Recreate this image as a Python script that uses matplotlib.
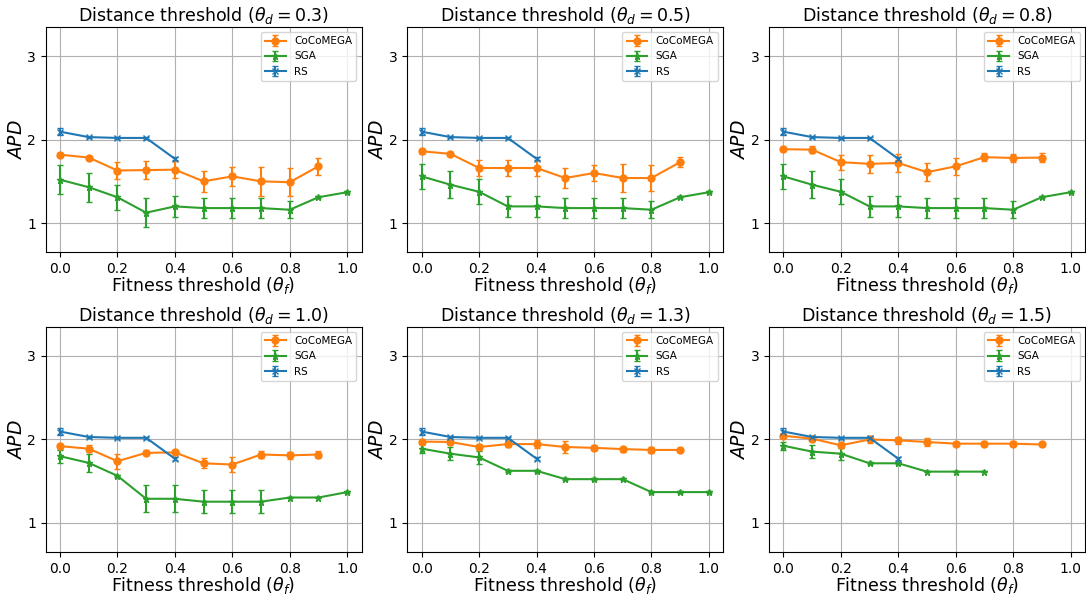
import numpy as np
import matplotlib.pyplot as plt

# umbrales de distancia (uno por panel)
theta_d = ['0.3', '0.5', '0.8', '1.0', '1.3', '1.5']

x_coco = [0.0, 0.1, 0.2, 0.3, 0.4, 0.5, 0.6, 0.7, 0.8, 0.9]
x_sga = [0.0, 0.1, 0.2, 0.3, 0.4, 0.5, 0.6, 0.7, 0.8, 0.9, 1.0]
x_sga_last = [0.0, 0.1, 0.2, 0.3, 0.4, 0.5, 0.6, 0.7]
x_rs = [0.0, 0.1, 0.2, 0.3, 0.4]

# RS (igual en todos los paneles)
rs_mean = [2.095, 2.03, 2.02, 2.02, 1.77]
rs_err = [0.04, 0.012, 0.012, 0.012, 0.02]

# CoCoMEGA
coco_mean = [
    [1.82, 1.785, 1.63, 1.635, 1.64, 1.50, 1.56, 1.50, 1.49, 1.68],
    [1.86, 1.83, 1.66, 1.66, 1.66, 1.54, 1.60, 1.54, 1.54, 1.73],
    [1.885, 1.88, 1.73, 1.71, 1.72, 1.61, 1.68, 1.79, 1.78, 1.785],
    [1.92, 1.89, 1.74, 1.84, 1.845, 1.715, 1.70, 1.82, 1.81, 1.82],
    [1.975, 1.97, 1.91, 1.945, 1.945, 1.91, 1.90, 1.885, 1.875, 1.875],
    [2.045, 2.01, 1.93, 2.00, 1.99, 1.97, 1.95, 1.95, 1.95, 1.94],
]
coco_err = [
    [0.025, 0.02, 0.105, 0.105, 0.10, 0.125, 0.11, 0.17, 0.17, 0.10],
    [0.03, 0.02, 0.095, 0.09, 0.10, 0.12, 0.10, 0.17, 0.16, 0.06],
    [0.02, 0.04, 0.09, 0.11, 0.11, 0.11, 0.10, 0.05, 0.05, 0.05],
    [0.03, 0.04, 0.09, 0.03, 0.03, 0.06, 0.09, 0.04, 0.04, 0.04],
    [0.03, 0.03, 0.03, 0.04, 0.05, 0.07, 0.03, 0.03, 0.04, 0.02],
    [0.03, 0.03, 0.03, 0.04, 0.04, 0.05, 0.02, 0.03, 0.03, 0.015],
]

# SGA
sga_mean = [
    [1.52, 1.43, 1.31, 1.125, 1.20, 1.18, 1.18, 1.18, 1.16, 1.31, 1.37],
    [1.56, 1.46, 1.375, 1.20, 1.20, 1.18, 1.18, 1.18, 1.16, 1.31, 1.37],
    [1.56, 1.46, 1.375, 1.20, 1.20, 1.18, 1.18, 1.18, 1.16, 1.31, 1.37],
    [1.80, 1.72, 1.565, 1.29, 1.29, 1.255, 1.255, 1.255, 1.305, 1.305, 1.37],
    [1.89, 1.83, 1.785, 1.625, 1.625, 1.525, 1.525, 1.525, 1.37, 1.37, 1.37],
    [1.925, 1.855, 1.83, 1.715, 1.715, 1.615, 1.615, 1.615],
]
sga_err = [
    [0.17, 0.175, 0.15, 0.17, 0.13, 0.12, 0.12, 0.12, 0.10, 0.015, 0.01],
    [0.15, 0.16, 0.15, 0.13, 0.13, 0.12, 0.12, 0.12, 0.10, 0.015, 0.01],
    [0.15, 0.16, 0.15, 0.13, 0.13, 0.12, 0.12, 0.12, 0.10, 0.015, 0.01],
    [0.08, 0.11, 0.01, 0.16, 0.16, 0.14, 0.14, 0.14, 0.01, 0.01, 0.01],
    [0.05, 0.08, 0.08, 0.01, 0.01, 0.01, 0.01, 0.01, 0.01, 0.01, 0.01],
    [0.05, 0.08, 0.07, 0.01, 0.01, 0.01, 0.01, 0.01],
]

fig, axes = plt.subplots(2, 3, figsize=(10.86, 5.97), dpi=100)
plt.subplots_adjust(left=0.042, right=0.999, top=0.955, bottom=0.075,
                    wspace=0.145, hspace=0.33)

for i, ax in enumerate(axes.flat):
    xs = x_sga if len(sga_mean[i]) == len(x_sga) else x_sga_last
    ax.errorbar(x_coco, coco_mean[i], yerr=coco_err[i], color='tab:orange',
                marker='o', markersize=5, capsize=2, label='CoCoMEGA')
    ax.errorbar(xs, sga_mean[i], yerr=sga_err[i], color='tab:green',
                marker='*', markersize=5, capsize=2, label='SGA')
    ax.errorbar(x_rs, rs_mean, yerr=rs_err, color='tab:blue',
                marker='x', markersize=5, capsize=2, label='RS')
    ax.set_ylim(0.65, 3.35)
    ax.set_xlim(-0.05, 1.05)
    ax.set_yticks([1, 2, 3])
    ax.set_xticks([0.0, 0.2, 0.4, 0.6, 0.8, 1.0])
    ax.tick_params(labelsize=10)
    ax.grid(True)
    ax.set_title(r'Distance threshold ($\theta_d = %s$)' % theta_d[i],
                 fontsize=12.5, pad=4)
    ax.set_xlabel(r'Fitness threshold ($\theta_f$)', fontsize=12.5, labelpad=-1)
    ax.set_ylabel(r'$APD$', fontsize=13.5, labelpad=1)
    ax.legend(loc='upper right', fontsize=7.5)

plt.savefig('out.png', dpi=100)
